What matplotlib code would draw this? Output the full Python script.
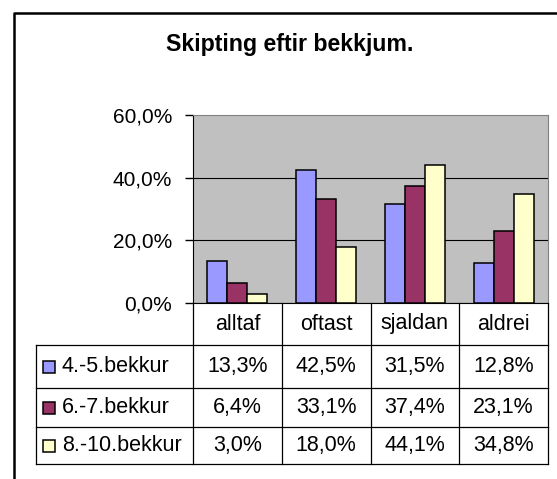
import numpy as np
import matplotlib.pyplot as plt
from matplotlib.lines import Line2D

plt.rcParams['font.family'] = ['Liberation Sans', 'DejaVu Sans']

# data
categories = ["alltaf", "oftast", "sjaldan", "aldrei"]
groups = ["4.-5.bekkur", "6.-7.bekkur", "8.-10.bekkur"]
grade_4_5 = [13.3, 42.5, 31.5, 12.8]
grade_6_7 = [6.4, 33.1, 37.4, 23.1]
grade_8_10 = [3.0, 18.0, 44.1, 34.8]
yticks = [0, 20, 40, 60]
colors = ["#9999FF", "#993366", "#FFFFCC"]
series = [grade_4_5, grade_6_7, grade_8_10]


def pct(v):
    return f"{v:.1f}%".replace(".", ",")


W, H = 557, 479


def box(l, t, r, b):
    # pixel box -> figure fraction
    return [l / W, 1 - b / H, (r - l) / W, (b - t) / H]


fig = plt.figure(figsize=(W / 100, H / 100), dpi=100)

# outer chart frame (right and bottom fall outside the picture)
fig.add_artist(Line2D([14 / W, 14 / W, 1.02], [-0.02, 1 - 13 / H, 1 - 13 / H],
                      transform=fig.transFigure, color="black", lw=1.8))

fig.text(290 / W, 1 - 44 / H, "Skipting eftir bekkjum.", ha="center", va="center",
         fontsize=16.7, fontweight="bold")

# plot area
ax = fig.add_axes(box(193, 115, 548, 303))
ax.set_facecolor("#C0C0C0")
x = np.arange(len(categories))
w = 0.225
for i, vals in enumerate(series):
    ax.bar(x + (i - 1) * w, vals, w, color=colors[i], edgecolor="black",
           linewidth=1.1, zorder=3)
ax.set_xlim(-0.5, len(categories) - 0.5)
ax.set_ylim(0, 60)
ax.set_yticks(yticks)
ax.set_yticklabels([pct(v) for v in yticks], fontsize=15)
ax.tick_params(axis="y", direction="out", length=6, pad=9, width=1)
ax.set_xticks([])
ax.grid(axis="y", color="black", lw=0.8, zorder=1)
ax.get_ygridlines()[-1].set_visible(False)
for s in ["top", "right"]:
    ax.spines[s].set_color("#808080")
for s in ["left", "bottom"]:
    ax.spines[s].set_color("black")

# data table under the plot
unit = (548 - 193) / len(categories)
left = -0.5 - (193 - 36) / unit
right = len(categories) - 0.5
tab = fig.add_axes(box(36, 303, 548, 464))
tab.set_xlim(left, right)
tab.set_ylim(464, 303)
tab.axis("off")

row_edges = [345, 388, 427, 464]
lc = dict(color="black", lw=0.9, clip_on=False)
for xb in np.arange(-0.5, right + 0.01, 1.0):
    tab.plot([xb, xb], [303, 464], **lc)
tab.plot([left, left], [row_edges[0], row_edges[-1]], **lc)
for yb in row_edges:
    tab.plot([left, right], [yb, yb], **lc)

for j, cat in enumerate(categories):
    tab.text(j, (303 + row_edges[0]) / 2, cat, ha="center", va="center", fontsize=15.5)

for i, (name, vals) in enumerate(zip(groups, series)):
    ym = (row_edges[i] + row_edges[i + 1]) / 2
    tab.plot([left + 13 / unit], [ym], marker="s", ms=8.5, mfc=colors[i],
             mec="black", mew=1.1, clip_on=False)
    tab.text(left + 26 / unit, ym, name, ha="left", va="center", fontsize=15.5)
    for j, v in enumerate(vals):
        tab.text(j, ym, pct(v), ha="center", va="center", fontsize=15.5)

fig.savefig("out.png", dpi=100)
